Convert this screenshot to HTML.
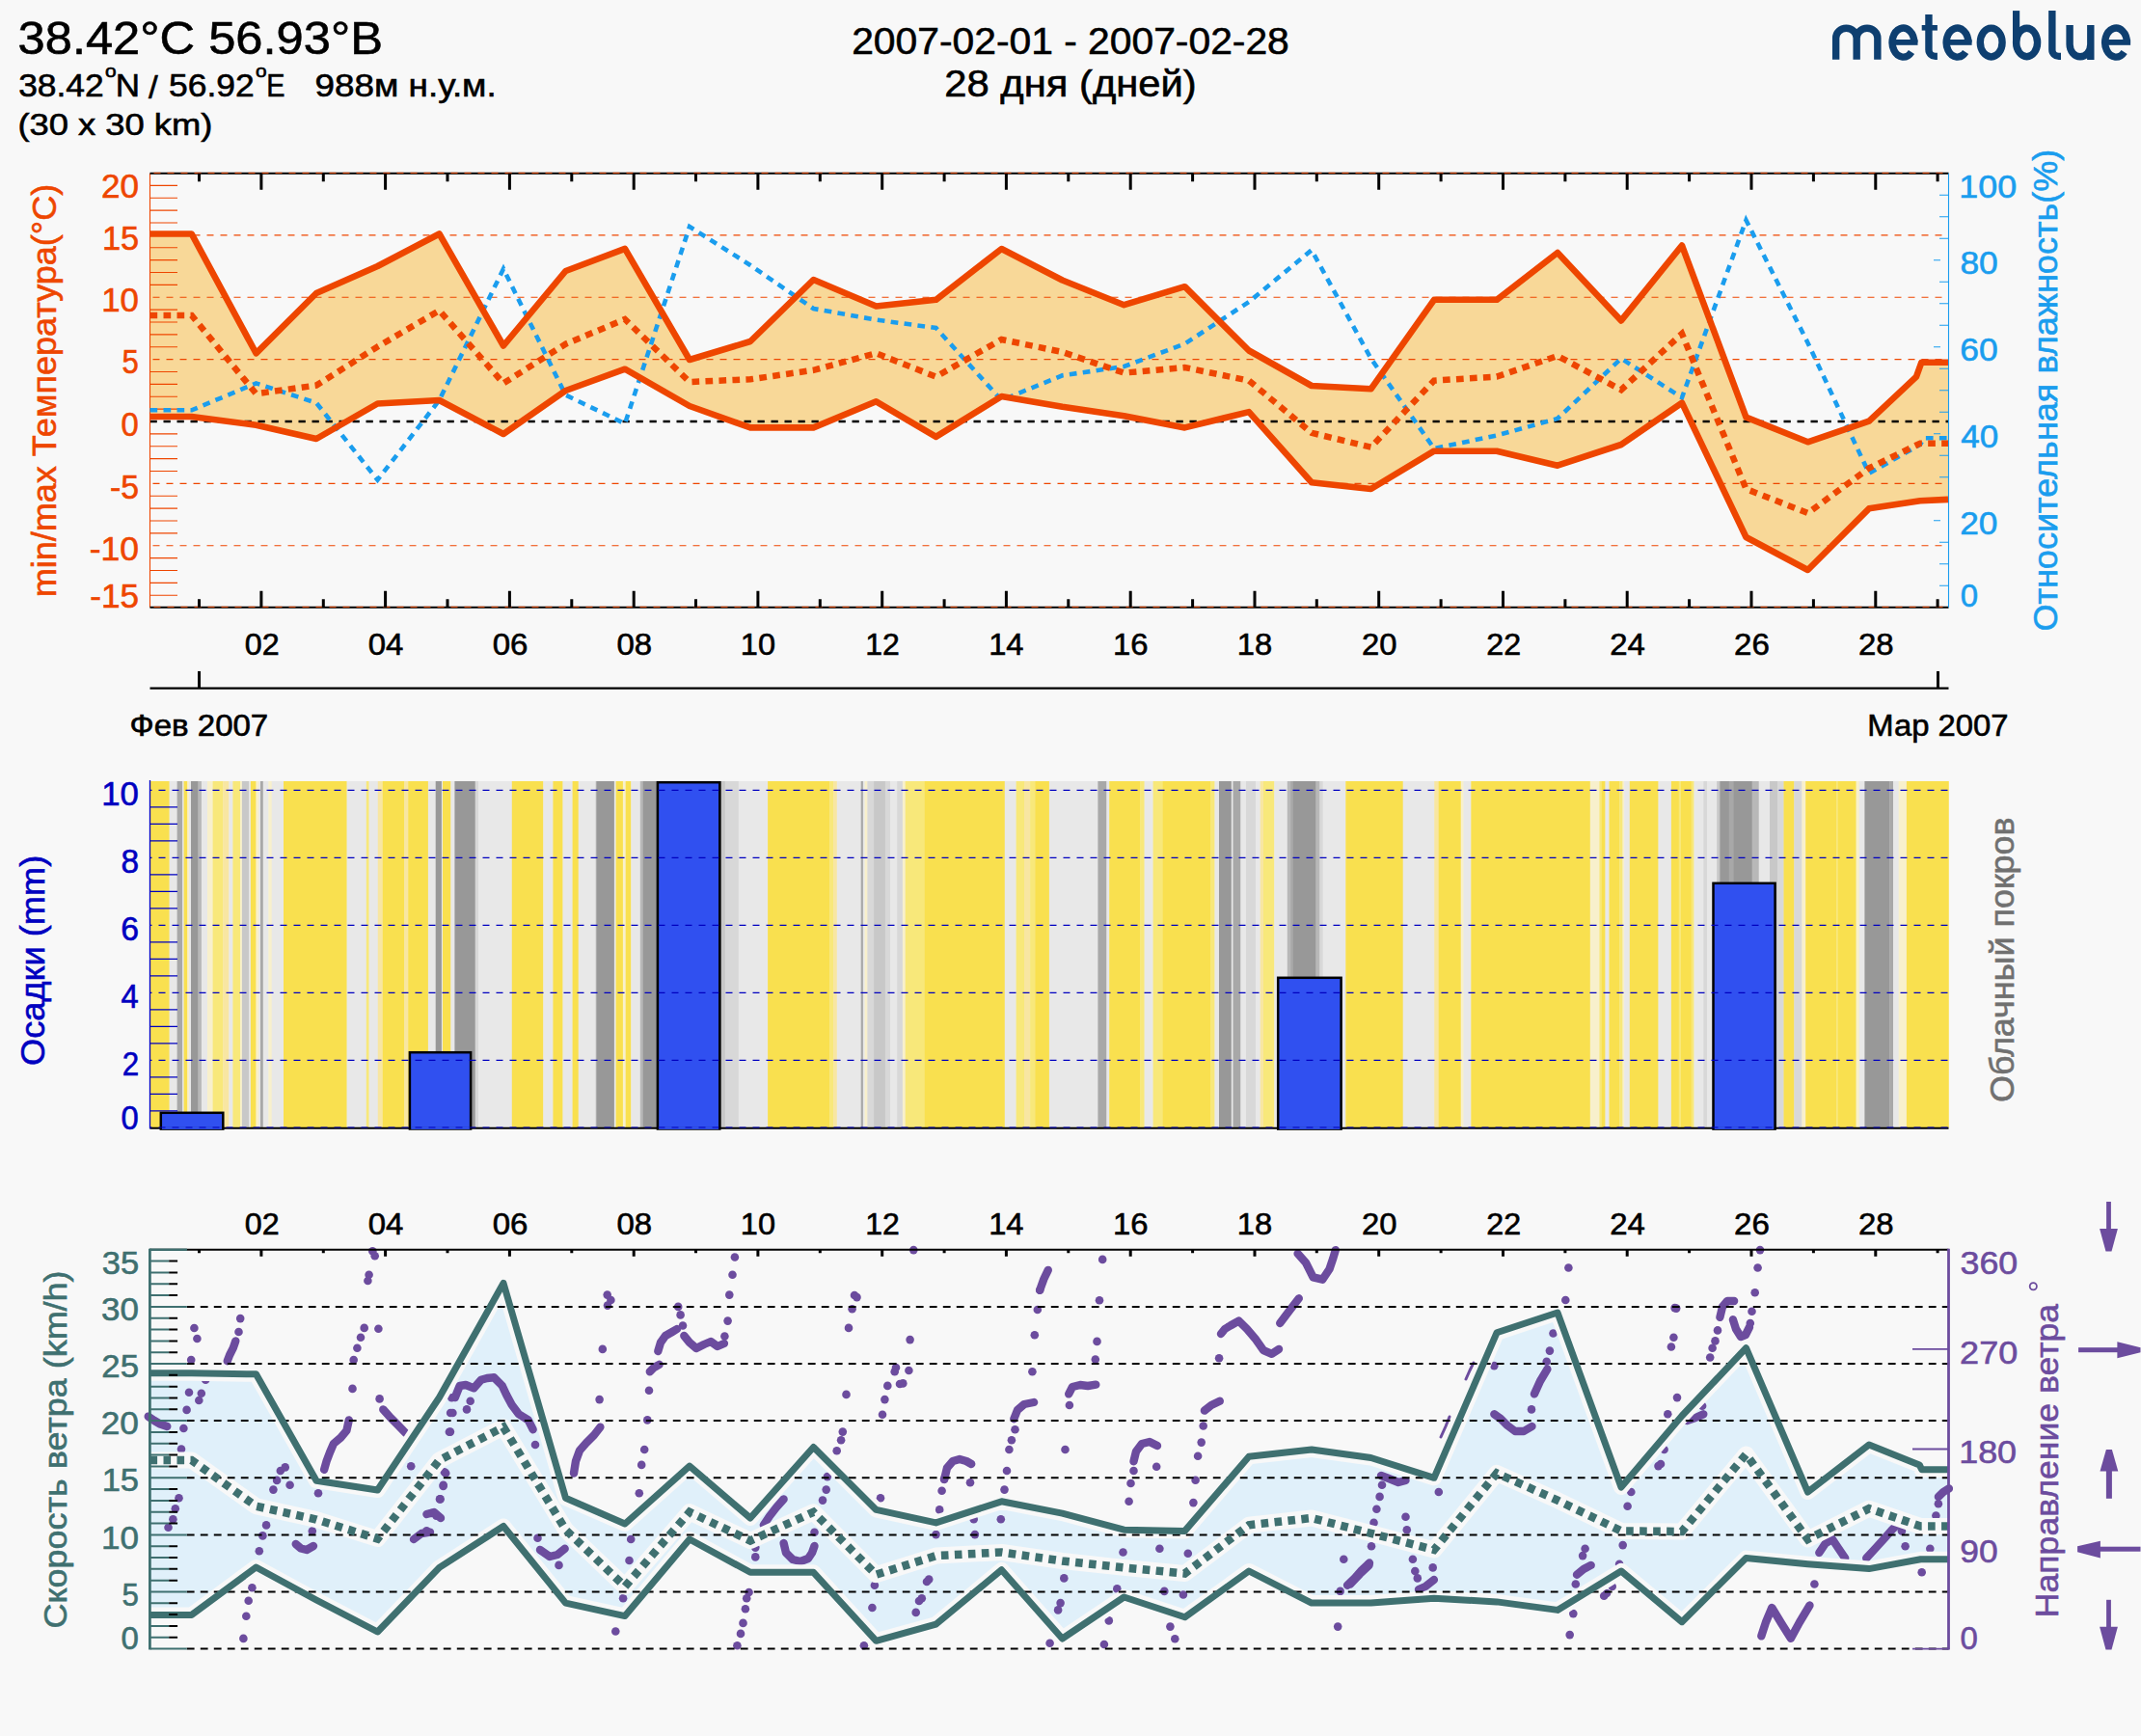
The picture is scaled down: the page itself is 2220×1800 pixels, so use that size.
<!DOCTYPE html><html><head><meta charset="utf-8"><title>meteoblue</title><style>html,body{margin:0;padding:0;background:#F8F8F8;overflow:hidden;width:2220px;height:1800px;}svg{display:block;}text{font-family:"Liberation Sans",sans-serif;}</style></head><body><svg width="2220" height="1800" viewBox="0 0 2220 1800" font-family="Liberation Sans, sans-serif">
<rect width="2220" height="1800" fill="#F8F8F8"/>
<text x="18.57" y="55.50" font-size="47.86" textLength="378.35" lengthAdjust="spacingAndGlyphs" fill="#000" stroke="#000" stroke-width="0.6">38.42°C 56.93°B</text>
<text x="19.18" y="100.40" font-size="33.29" textLength="88.57" lengthAdjust="spacingAndGlyphs" fill="#000" stroke="#000" stroke-width="0.6">38.42</text>
<text x="108.97" y="80.40" font-size="18.60" textLength="11.59" lengthAdjust="spacingAndGlyphs" fill="#000" stroke="#000" stroke-width="0.6">o</text>
<text x="119.80" y="100.40" font-size="33.29" textLength="25.28" lengthAdjust="spacingAndGlyphs" fill="#000" stroke="#000" stroke-width="0.6">N</text>
<text x="154.00" y="101.50" font-size="33.29" textLength="9.72" lengthAdjust="spacingAndGlyphs" fill="#000" stroke="#000" stroke-width="0.6">/</text>
<text x="175.08" y="100.40" font-size="33.29" textLength="88.68" lengthAdjust="spacingAndGlyphs" fill="#000" stroke="#000" stroke-width="0.6">56.92</text>
<text x="264.97" y="80.40" font-size="18.60" textLength="11.59" lengthAdjust="spacingAndGlyphs" fill="#000" stroke="#000" stroke-width="0.6">o</text>
<text x="276.20" y="100.40" font-size="33.29" textLength="19.22" lengthAdjust="spacingAndGlyphs" fill="#000" stroke="#000" stroke-width="0.6">E</text>
<text x="326.64" y="100.20" font-size="33.29" textLength="188.04" lengthAdjust="spacingAndGlyphs" fill="#000" stroke="#000" stroke-width="0.6">988м н.у.м.</text>
<text x="18.42" y="139.70" font-size="32.00" textLength="201.94" lengthAdjust="spacingAndGlyphs" fill="#000" stroke="#000" stroke-width="0.6">(30 x 30 km)</text>
<text x="883.16" y="55.80" font-size="39.00" textLength="453.66" lengthAdjust="spacingAndGlyphs" fill="#000" stroke="#000" stroke-width="0.6">2007-02-01 - 2007-02-28</text>
<text x="979.31" y="100.20" font-size="38.43" textLength="261.47" lengthAdjust="spacingAndGlyphs" fill="#000" stroke="#000" stroke-width="0.6">28 дня (дней)</text>
<path d="M1903.65,61.75 V39.5 A10.75,10.3 0 0,1 1925.15,39.5 V61.75 M1925.15,39.5 A10.85,10.3 0 0,1 1946.85,39.5 V61.75 M1984.80,44.10 A11.35,15.0 0 1,0 1982.02,53.94 M2040.90,44.10 A11.35,15.0 0 1,0 2038.12,53.94 M2205.40,44.10 A11.35,15.0 0 1,0 2202.62,53.94 M2076.1,44.05 A11.4,14.9 0 1,1 2053.3,44.05 A11.4,14.9 0 1,1 2076.1,44.05 Z M2112.6,44.0 A11.0,14.7 0 1,1 2090.6,44.0 A11.0,14.7 0 1,1 2112.6,44.0 Z M1999.95,15 V51.5 A6.9,6.9 0 0,0 2006.85,58.4 H2008.9 M2127.85,11.1 V51.5 A6.9,6.9 0 0,0 2134.75,58.4 H2137 M2146.1,26 V46.1 A10.85,12.75 0 0,0 2167.8,46.1 V26 M2167.8,46.1 V62" fill="none" stroke="#0E3F70" stroke-width="7.4"/>
<g fill="#0E3F70"><rect x="1961.40" y="41" width="27.1" height="5.8"/><rect x="2017.50" y="41" width="27.1" height="5.8"/><rect x="2182.00" y="41" width="27.1" height="5.8"/><rect x="1992.7" y="26" width="16.2" height="5.6"/><rect x="2087" y="11.1" width="7.2" height="34"/></g>
<polygon points="155.5,242.5 198.7,242.5 265.5,366.3 328.0,304.0 391.5,276.0 455.5,242.5 522.0,358.5 586.5,281.0 648.0,257.8 715.0,373.0 778.0,354.0 843.5,290.0 908.5,317.5 970.5,310.8 1038.5,258.0 1101.5,290.5 1165.5,316.2 1228.5,297.2 1295.0,363.5 1360.0,400.0 1421.5,403.3 1487.0,310.8 1552.0,310.8 1615.0,262.0 1681.0,332.4 1744.0,254.5 1810.5,432.6 1874.5,458.3 1938.0,436.6 1987.0,390.6 1992.4,375.7 2020.0,375.7 2020.0,517.9 1991.0,519.2 1938.0,527.3 1874.5,591.0 1810.5,557.0 1744.0,417.7 1681.0,461.0 1615.0,482.7 1552.0,467.7 1487.0,467.7 1421.5,507.0 1360.0,500.2 1295.0,427.1 1228.5,443.4 1165.5,431.2 1101.5,421.8 1038.5,411.0 970.5,452.9 908.5,416.3 843.5,443.4 778.0,443.4 715.0,421.0 648.0,382.7 586.5,405.0 522.0,450.0 455.5,415.0 391.5,418.5 328.0,455.0 265.5,440.7 198.7,432.0 155.5,432.0" fill="#F8D898"/>
<line x1="155.5" y1="243.9" x2="2020.5" y2="243.9" stroke="#EE4600" stroke-width="1.1" stroke-dasharray="7 7" stroke-dashoffset="-3"/>
<line x1="155.5" y1="308.2" x2="2020.5" y2="308.2" stroke="#EE4600" stroke-width="1.1" stroke-dasharray="7 7" stroke-dashoffset="-3"/>
<line x1="155.5" y1="372.6" x2="2020.5" y2="372.6" stroke="#EE4600" stroke-width="1.1" stroke-dasharray="7 7" stroke-dashoffset="-3"/>
<line x1="155.5" y1="501.4" x2="2020.5" y2="501.4" stroke="#EE4600" stroke-width="1.1" stroke-dasharray="7 7" stroke-dashoffset="-3"/>
<line x1="155.5" y1="565.8" x2="2020.5" y2="565.8" stroke="#EE4600" stroke-width="1.1" stroke-dasharray="7 7" stroke-dashoffset="-3"/>
<line x1="155.5" y1="437.0" x2="2020.5" y2="437.0" stroke="#000" stroke-width="2.4" stroke-dasharray="7.3 6.7"/>
<path d="M155.5,617.3 H184 M155.5,604.4 H184 M155.5,591.5 H184 M155.5,578.6 H184 M155.5,552.9 H184 M155.5,540.0 H184 M155.5,527.1 H184 M155.5,514.3 H184 M155.5,488.5 H184 M155.5,475.6 H184 M155.5,462.8 H184 M155.5,449.9 H184 M155.5,424.1 H184 M155.5,411.2 H184 M155.5,398.4 H184 M155.5,385.5 H184 M155.5,359.7 H184 M155.5,346.9 H184 M155.5,334.0 H184 M155.5,321.1 H184 M155.5,295.4 H184 M155.5,282.5 H184 M155.5,269.6 H184 M155.5,256.7 H184 M155.5,231.0 H184 M155.5,218.1 H184 M155.5,205.2 H184 M155.5,192.4 H184" stroke="#EE4600" stroke-width="1.1" fill="none"/>
<line x1="155.5" y1="179.8" x2="155.5" y2="629.8" stroke="#EE4600" stroke-width="1.1"/>
<line x1="155.5" y1="179.8" x2="2020.5" y2="179.8" stroke="#000" stroke-width="2"/>
<line x1="155.5" y1="179.3" x2="2020.5" y2="179.3" stroke="#EE4600" stroke-width="1" stroke-dasharray="7 7" stroke-dashoffset="-4"/>
<line x1="155.5" y1="629.8" x2="2020.5" y2="629.8" stroke="#000" stroke-width="2"/>
<line x1="155.5" y1="629.3" x2="2020.5" y2="629.3" stroke="#EE4600" stroke-width="1" stroke-dasharray="7 7" stroke-dashoffset="-4"/>
<path d="M206.5,179.8 v8.5 M206.5,629.8 v-8.5 M270.9,179.8 v17 M270.9,629.8 v-17 M335.3,179.8 v8.5 M335.3,629.8 v-8.5 M399.6,179.8 v17 M399.6,629.8 v-17 M464.0,179.8 v8.5 M464.0,629.8 v-8.5 M528.4,179.8 v17 M528.4,629.8 v-17 M592.8,179.8 v8.5 M592.8,629.8 v-8.5 M657.2,179.8 v17 M657.2,629.8 v-17 M721.5,179.8 v8.5 M721.5,629.8 v-8.5 M785.9,179.8 v17 M785.9,629.8 v-17 M850.3,179.8 v8.5 M850.3,629.8 v-8.5 M914.7,179.8 v17 M914.7,629.8 v-17 M979.1,179.8 v8.5 M979.1,629.8 v-8.5 M1043.4,179.8 v17 M1043.4,629.8 v-17 M1107.8,179.8 v8.5 M1107.8,629.8 v-8.5 M1172.2,179.8 v17 M1172.2,629.8 v-17 M1236.6,179.8 v8.5 M1236.6,629.8 v-8.5 M1301.0,179.8 v17 M1301.0,629.8 v-17 M1365.3,179.8 v8.5 M1365.3,629.8 v-8.5 M1429.7,179.8 v17 M1429.7,629.8 v-17 M1494.1,179.8 v8.5 M1494.1,629.8 v-8.5 M1558.5,179.8 v17 M1558.5,629.8 v-17 M1622.9,179.8 v8.5 M1622.9,629.8 v-8.5 M1687.2,179.8 v17 M1687.2,629.8 v-17 M1751.6,179.8 v8.5 M1751.6,629.8 v-8.5 M1816.0,179.8 v17 M1816.0,629.8 v-17 M1880.4,179.8 v8.5 M1880.4,629.8 v-8.5 M1944.8,179.8 v17 M1944.8,629.8 v-17 M2009.1,179.8 v8.5 M2009.1,629.8 v-8.5" stroke="#000" stroke-width="3" fill="none"/>
<line x1="2020.5" y1="179.8" x2="2020.5" y2="629.8" stroke="#1A9DEE" stroke-width="1.1"/>
<path d="M2011,607.3 H2020.5 M2011,584.8 H2020.5 M2011,562.3 H2020.5 M2005,539.8 H2012 M2011,517.3 H2020.5 M2011,494.8 H2020.5 M2011,472.3 H2020.5 M2005,449.8 H2012 M2011,427.3 H2020.5 M2011,404.8 H2020.5 M2011,382.3 H2020.5 M2005,359.8 H2012 M2011,337.3 H2020.5 M2011,314.8 H2020.5 M2011,292.3 H2020.5 M2005,269.8 H2012 M2011,247.3 H2020.5 M2011,224.8 H2020.5 M2011,202.3 H2020.5" stroke="#1A9DEE" stroke-width="1.1" fill="none"/>
<polyline points="155.5,425.3 198.7,425.3 265.5,397.4 328.0,417.7 391.5,497.6 455.5,415.0 522.0,278.8 586.5,409.6 648.0,439.3 715.0,235.0 778.0,275.0 843.5,320.0 908.5,331.6 970.5,340.0 1038.5,415.0 1101.5,389.3 1165.5,380.0 1228.5,356.5 1295.0,313.0 1360.0,259.3 1421.5,371.7 1487.0,465.0 1552.0,451.5 1615.0,434.0 1681.0,371.7 1744.0,412.3 1810.5,228.2 1874.5,355.4 1938.0,490.8 1991.0,461.0 1995.0,454.3 2020.0,454.3" fill="none" stroke="#1A9DEE" stroke-width="4.6" stroke-dasharray="7.7 6.3"/>
<polyline points="155.5,327.0 198.7,327.0 265.5,408.2 328.0,399.6 391.5,359.5 455.5,322.0 522.0,397.4 586.5,356.7 648.0,331.0 715.0,396.0 778.0,393.3 843.5,383.8 908.5,366.3 970.5,390.6 1038.5,352.0 1101.5,365.0 1165.5,386.6 1228.5,381.0 1295.0,394.6 1360.0,448.8 1421.5,463.7 1487.0,394.6 1552.0,390.6 1615.0,369.0 1681.0,404.2 1744.0,346.0 1810.5,507.0 1874.5,532.0 1938.0,485.4 1991.0,459.7 2020.0,459.7" fill="none" stroke="#EE4600" stroke-width="6.5" stroke-dasharray="7.7 6.3"/>
<polyline points="155.5,242.5 198.7,242.5 265.5,366.3 328.0,304.0 391.5,276.0 455.5,242.5 522.0,358.5 586.5,281.0 648.0,257.8 715.0,373.0 778.0,354.0 843.5,290.0 908.5,317.5 970.5,310.8 1038.5,258.0 1101.5,290.5 1165.5,316.2 1228.5,297.2 1295.0,363.5 1360.0,400.0 1421.5,403.3 1487.0,310.8 1552.0,310.8 1615.0,262.0 1681.0,332.4 1744.0,254.5 1810.5,432.6 1874.5,458.3 1938.0,436.6 1987.0,390.6 1992.4,375.7 2020.0,375.7" fill="none" stroke="#EE4600" stroke-width="6.6" stroke-linejoin="round"/>
<polyline points="155.5,432.0 198.7,432.0 265.5,440.7 328.0,455.0 391.5,418.5 455.5,415.0 522.0,450.0 586.5,405.0 648.0,382.7 715.0,421.0 778.0,443.4 843.5,443.4 908.5,416.3 970.5,452.9 1038.5,411.0 1101.5,421.8 1165.5,431.2 1228.5,443.4 1295.0,427.1 1360.0,500.2 1421.5,507.0 1487.0,467.7 1552.0,467.7 1615.0,482.7 1681.0,461.0 1744.0,417.7 1810.5,557.0 1874.5,591.0 1938.0,527.3 1991.0,519.2 2020.0,517.9" fill="none" stroke="#EE4600" stroke-width="6.6" stroke-linejoin="round"/>
<text x="104.95" y="204.95" font-size="34.15" textLength="38.96" lengthAdjust="spacingAndGlyphs" fill="#EE4600" stroke="#EE4600" stroke-width="0.6">20</text>
<text x="105.91" y="258.55" font-size="34.17" textLength="38.15" lengthAdjust="spacingAndGlyphs" fill="#EE4600" stroke="#EE4600" stroke-width="0.6">15</text>
<text x="105.22" y="323.05" font-size="34.15" textLength="38.67" lengthAdjust="spacingAndGlyphs" fill="#EE4600" stroke="#EE4600" stroke-width="0.6">10</text>
<text x="126.62" y="387.35" font-size="34.17" textLength="17.26" lengthAdjust="spacingAndGlyphs" fill="#EE4600" stroke="#EE4600" stroke-width="0.6">5</text>
<text x="125.58" y="452.15" font-size="34.15" textLength="18.20" lengthAdjust="spacingAndGlyphs" fill="#EE4600" stroke="#EE4600" stroke-width="0.6">0</text>
<text x="113.90" y="516.55" font-size="34.17" textLength="30.02" lengthAdjust="spacingAndGlyphs" fill="#EE4600" stroke="#EE4600" stroke-width="0.6">-5</text>
<text x="92.67" y="580.95" font-size="34.15" textLength="51.18" lengthAdjust="spacingAndGlyphs" fill="#EE4600" stroke="#EE4600" stroke-width="0.6">-10</text>
<text x="93.33" y="629.95" font-size="34.17" textLength="50.68" lengthAdjust="spacingAndGlyphs" fill="#EE4600" stroke="#EE4600" stroke-width="0.6">-15</text>
<text transform="translate(58.20,617.00) rotate(-90)" x="-2.34" y="0" font-size="34.71" textLength="428.55" lengthAdjust="spacingAndGlyphs" fill="#EE4600" stroke="#EE4600" stroke-width="0.6">min/max Температура(°C)</text>
<text x="2031.31" y="204.85" font-size="32.72" textLength="59.86" lengthAdjust="spacingAndGlyphs" fill="#1A9DEE" stroke="#1A9DEE" stroke-width="0.6">100</text>
<text x="2032.41" y="284.35" font-size="32.72" textLength="39.36" lengthAdjust="spacingAndGlyphs" fill="#1A9DEE" stroke="#1A9DEE" stroke-width="0.6">80</text>
<text x="2032.23" y="374.15" font-size="32.72" textLength="39.38" lengthAdjust="spacingAndGlyphs" fill="#1A9DEE" stroke="#1A9DEE" stroke-width="0.6">60</text>
<text x="2033.30" y="464.35" font-size="32.72" textLength="38.94" lengthAdjust="spacingAndGlyphs" fill="#1A9DEE" stroke="#1A9DEE" stroke-width="0.6">40</text>
<text x="2032.24" y="554.45" font-size="32.72" textLength="39.20" lengthAdjust="spacingAndGlyphs" fill="#1A9DEE" stroke="#1A9DEE" stroke-width="0.6">20</text>
<text x="2032.68" y="629.05" font-size="32.72" textLength="18.32" lengthAdjust="spacingAndGlyphs" fill="#1A9DEE" stroke="#1A9DEE" stroke-width="0.6">0</text>
<text transform="translate(2132.90,653.00) rotate(-90)" x="-1.62" y="0" font-size="34.57" textLength="499.95" lengthAdjust="spacingAndGlyphs" fill="#1A9DEE" stroke="#1A9DEE" stroke-width="0.6">Относительная влажность(%)</text>
<text x="253.79" y="679.40" font-size="32.00" textLength="35.82" lengthAdjust="spacingAndGlyphs" fill="#000" stroke="#000" stroke-width="0.6">02</text>
<text x="381.84" y="679.40" font-size="32.00" textLength="36.59" lengthAdjust="spacingAndGlyphs" fill="#000" stroke="#000" stroke-width="0.6">04</text>
<text x="510.67" y="679.40" font-size="32.00" textLength="36.78" lengthAdjust="spacingAndGlyphs" fill="#000" stroke="#000" stroke-width="0.6">06</text>
<text x="639.51" y="679.40" font-size="32.00" textLength="36.62" lengthAdjust="spacingAndGlyphs" fill="#000" stroke="#000" stroke-width="0.6">08</text>
<text x="767.83" y="679.40" font-size="32.00" textLength="36.20" lengthAdjust="spacingAndGlyphs" fill="#000" stroke="#000" stroke-width="0.6">10</text>
<text x="897.16" y="679.40" font-size="32.00" textLength="35.56" lengthAdjust="spacingAndGlyphs" fill="#000" stroke="#000" stroke-width="0.6">12</text>
<text x="1025.18" y="679.40" font-size="32.02" textLength="36.36" lengthAdjust="spacingAndGlyphs" fill="#000" stroke="#000" stroke-width="0.6">14</text>
<text x="1154.01" y="679.40" font-size="32.00" textLength="36.55" lengthAdjust="spacingAndGlyphs" fill="#000" stroke="#000" stroke-width="0.6">16</text>
<text x="1282.85" y="679.40" font-size="32.00" textLength="36.38" lengthAdjust="spacingAndGlyphs" fill="#000" stroke="#000" stroke-width="0.6">18</text>
<text x="1411.90" y="679.40" font-size="32.00" textLength="36.47" lengthAdjust="spacingAndGlyphs" fill="#000" stroke="#000" stroke-width="0.6">20</text>
<text x="1541.22" y="679.40" font-size="32.00" textLength="35.84" lengthAdjust="spacingAndGlyphs" fill="#000" stroke="#000" stroke-width="0.6">22</text>
<text x="1669.26" y="679.40" font-size="32.00" textLength="36.62" lengthAdjust="spacingAndGlyphs" fill="#000" stroke="#000" stroke-width="0.6">24</text>
<text x="1798.09" y="679.40" font-size="32.00" textLength="36.81" lengthAdjust="spacingAndGlyphs" fill="#000" stroke="#000" stroke-width="0.6">26</text>
<text x="1926.93" y="679.40" font-size="32.00" textLength="36.65" lengthAdjust="spacingAndGlyphs" fill="#000" stroke="#000" stroke-width="0.6">28</text>
<line x1="155.5" y1="713.6" x2="2020.5" y2="713.6" stroke="#000" stroke-width="2.2"/>
<path d="M206.5,696 V713.6 M2009.5,696 V713.6" stroke="#000" stroke-width="3"/>
<text x="134.58" y="763.00" font-size="31.71" textLength="143.67" lengthAdjust="spacingAndGlyphs" fill="#000" stroke="#000" stroke-width="0.6">Фев 2007</text>
<text x="1936.28" y="763.20" font-size="32.00" textLength="146.24" lengthAdjust="spacingAndGlyphs" fill="#000" stroke="#000" stroke-width="0.6">Мар 2007</text>
<defs><clipPath id="pc"><rect x="155.4" y="809.8" width="1865.4" height="359.5"/></clipPath><filter id="bx" x="100" y="790" width="2000" height="400" filterUnits="userSpaceOnUse"><feGaussianBlur stdDeviation="0.55 0"/></filter></defs>
<g clip-path="url(#pc)"><g filter="url(#bx)">
<rect x="140.0" y="809.8" width="35.9" height="359.5" fill="#F9E050"/>
<rect x="175.6" y="809.8" width="8.3" height="359.5" fill="#E8E8E8"/>
<rect x="183.6" y="809.8" width="5.9" height="359.5" fill="#A8A8A8"/>
<rect x="189.2" y="809.8" width="1.7" height="359.5" fill="#E8E8E8"/>
<rect x="190.6" y="809.8" width="4.0" height="359.5" fill="#F9E050"/>
<rect x="194.3" y="809.8" width="2.0" height="359.5" fill="#F8F0CC"/>
<rect x="196.0" y="809.8" width="2.3" height="359.5" fill="#E8E8E8"/>
<rect x="198.0" y="809.8" width="7.8" height="359.5" fill="#989898"/>
<rect x="205.5" y="809.8" width="3.7" height="359.5" fill="#B8B8B8"/>
<rect x="208.9" y="809.8" width="6.4" height="359.5" fill="#E8E8E8"/>
<rect x="215.0" y="809.8" width="5.9" height="359.5" fill="#F8F0CC"/>
<rect x="220.6" y="809.8" width="11.0" height="359.5" fill="#F8E87A"/>
<rect x="231.3" y="809.8" width="6.4" height="359.5" fill="#F8E6A2"/>
<rect x="237.4" y="809.8" width="4.3" height="359.5" fill="#E8E8E8"/>
<rect x="241.4" y="809.8" width="8.1" height="359.5" fill="#F8E87A"/>
<rect x="249.2" y="809.8" width="2.0" height="359.5" fill="#F8F0CC"/>
<rect x="250.9" y="809.8" width="7.6" height="359.5" fill="#C8C8C8"/>
<rect x="258.2" y="809.8" width="2.0" height="359.5" fill="#E8E8E8"/>
<rect x="259.9" y="809.8" width="5.9" height="359.5" fill="#F9E050"/>
<rect x="265.5" y="809.8" width="3.1" height="359.5" fill="#F8F0CC"/>
<rect x="268.3" y="809.8" width="2.0" height="359.5" fill="#E8E8E8"/>
<rect x="270.0" y="809.8" width="3.1" height="359.5" fill="#A8A8A8"/>
<rect x="272.8" y="809.8" width="5.9" height="359.5" fill="#E8E8E8"/>
<rect x="278.4" y="809.8" width="3.6" height="359.5" fill="#F8F0CC"/>
<rect x="281.7" y="809.8" width="12.6" height="359.5" fill="#E8E8E8"/>
<rect x="294.0" y="809.8" width="65.9" height="359.5" fill="#F9E050"/>
<rect x="359.6" y="809.8" width="20.5" height="359.5" fill="#E8E8E8"/>
<rect x="379.8" y="809.8" width="3.1" height="359.5" fill="#F8E87A"/>
<rect x="382.6" y="809.8" width="9.5" height="359.5" fill="#E8E8E8"/>
<rect x="391.8" y="809.8" width="5.3" height="359.5" fill="#F8E6A2"/>
<rect x="396.8" y="809.8" width="22.7" height="359.5" fill="#F9E050"/>
<rect x="419.2" y="809.8" width="4.3" height="359.5" fill="#F8E6A2"/>
<rect x="423.2" y="809.8" width="21.0" height="359.5" fill="#F9E050"/>
<rect x="443.9" y="809.8" width="8.1" height="359.5" fill="#E8E8E8"/>
<rect x="451.7" y="809.8" width="6.5" height="359.5" fill="#989898"/>
<rect x="457.9" y="809.8" width="1.4" height="359.5" fill="#E8E8E8"/>
<rect x="459.0" y="809.8" width="8.7" height="359.5" fill="#F9E050"/>
<rect x="467.4" y="809.8" width="4.3" height="359.5" fill="#E8E8E8"/>
<rect x="471.4" y="809.8" width="21.6" height="359.5" fill="#989898"/>
<rect x="492.7" y="809.8" width="3.6" height="359.5" fill="#D8D8D8"/>
<rect x="496.0" y="809.8" width="35.1" height="359.5" fill="#E8E8E8"/>
<rect x="530.8" y="809.8" width="32.8" height="359.5" fill="#F9E050"/>
<rect x="563.3" y="809.8" width="10.4" height="359.5" fill="#E8E8E8"/>
<rect x="573.4" y="809.8" width="10.4" height="359.5" fill="#F9E050"/>
<rect x="583.5" y="809.8" width="10.4" height="359.5" fill="#E8E8E8"/>
<rect x="593.6" y="809.8" width="6.4" height="359.5" fill="#F9E050"/>
<rect x="599.7" y="809.8" width="18.3" height="359.5" fill="#E8E8E8"/>
<rect x="617.7" y="809.8" width="1.0" height="359.5" fill="#B8B8B8"/>
<rect x="618.4" y="809.8" width="18.8" height="359.5" fill="#989898"/>
<rect x="636.9" y="809.8" width="2.0" height="359.5" fill="#E8E8E8"/>
<rect x="638.6" y="809.8" width="7.6" height="359.5" fill="#F9E050"/>
<rect x="645.9" y="809.8" width="3.1" height="359.5" fill="#F8F0CC"/>
<rect x="648.7" y="809.8" width="5.9" height="359.5" fill="#F9E050"/>
<rect x="654.3" y="809.8" width="9.8" height="359.5" fill="#E8E8E8"/>
<rect x="663.8" y="809.8" width="3.0" height="359.5" fill="#B8B8B8"/>
<rect x="666.5" y="809.8" width="81.8" height="359.5" fill="#989898"/>
<rect x="748.0" y="809.8" width="4.1" height="359.5" fill="#C8C8C8"/>
<rect x="751.8" y="809.8" width="14.3" height="359.5" fill="#D8D8D8"/>
<rect x="765.8" y="809.8" width="30.6" height="359.5" fill="#E8E8E8"/>
<rect x="796.1" y="809.8" width="64.4" height="359.5" fill="#F9E050"/>
<rect x="860.2" y="809.8" width="4.2" height="359.5" fill="#F8E87A"/>
<rect x="864.1" y="809.8" width="4.0" height="359.5" fill="#F8E6A2"/>
<rect x="867.8" y="809.8" width="25.2" height="359.5" fill="#E8E8E8"/>
<rect x="892.7" y="809.8" width="2.5" height="359.5" fill="#A8A8A8"/>
<rect x="894.9" y="809.8" width="2.0" height="359.5" fill="#E8E8E8"/>
<rect x="896.6" y="809.8" width="3.1" height="359.5" fill="#F8F0CC"/>
<rect x="899.4" y="809.8" width="7.0" height="359.5" fill="#D8D8D8"/>
<rect x="906.1" y="809.8" width="12.1" height="359.5" fill="#C8C8C8"/>
<rect x="917.9" y="809.8" width="5.4" height="359.5" fill="#D8D8D8"/>
<rect x="923.0" y="809.8" width="7.5" height="359.5" fill="#E8E8E8"/>
<rect x="930.2" y="809.8" width="6.0" height="359.5" fill="#D8D8D8"/>
<rect x="935.9" y="809.8" width="3.1" height="359.5" fill="#F8F0CC"/>
<rect x="938.7" y="809.8" width="20.4" height="359.5" fill="#F8E87A"/>
<rect x="958.8" y="809.8" width="83.3" height="359.5" fill="#F9E050"/>
<rect x="1041.8" y="809.8" width="12.1" height="359.5" fill="#E8E8E8"/>
<rect x="1053.6" y="809.8" width="8.7" height="359.5" fill="#F8E87A"/>
<rect x="1062.0" y="809.8" width="6.4" height="359.5" fill="#F8E6A2"/>
<rect x="1068.1" y="809.8" width="5.4" height="359.5" fill="#F8E87A"/>
<rect x="1073.2" y="809.8" width="15.0" height="359.5" fill="#F9E050"/>
<rect x="1087.9" y="809.8" width="50.8" height="359.5" fill="#E8E8E8"/>
<rect x="1138.4" y="809.8" width="9.3" height="359.5" fill="#A8A8A8"/>
<rect x="1147.4" y="809.8" width="3.1" height="359.5" fill="#E8E8E8"/>
<rect x="1150.2" y="809.8" width="32.2" height="359.5" fill="#F9E050"/>
<rect x="1182.1" y="809.8" width="4.8" height="359.5" fill="#F8E87A"/>
<rect x="1186.6" y="809.8" width="9.3" height="359.5" fill="#E8E8E8"/>
<rect x="1195.6" y="809.8" width="10.4" height="359.5" fill="#F8E87A"/>
<rect x="1205.7" y="809.8" width="49.6" height="359.5" fill="#F9E050"/>
<rect x="1255.0" y="809.8" width="4.8" height="359.5" fill="#F8E87A"/>
<rect x="1259.5" y="809.8" width="4.8" height="359.5" fill="#E8E8E8"/>
<rect x="1264.0" y="809.8" width="13.1" height="359.5" fill="#989898"/>
<rect x="1276.8" y="809.8" width="2.0" height="359.5" fill="#E8E8E8"/>
<rect x="1278.5" y="809.8" width="8.2" height="359.5" fill="#A8A8A8"/>
<rect x="1286.4" y="809.8" width="5.9" height="359.5" fill="#E8E8E8"/>
<rect x="1292.0" y="809.8" width="10.3" height="359.5" fill="#D8D8D8"/>
<rect x="1302.0" y="809.8" width="5.0" height="359.5" fill="#E8E8E8"/>
<rect x="1306.7" y="809.8" width="3.6" height="359.5" fill="#F8E6A2"/>
<rect x="1310.0" y="809.8" width="11.6" height="359.5" fill="#F8E87A"/>
<rect x="1321.3" y="809.8" width="13.8" height="359.5" fill="#E8E8E8"/>
<rect x="1334.8" y="809.8" width="3.6" height="359.5" fill="#B8B8B8"/>
<rect x="1338.1" y="809.8" width="3.1" height="359.5" fill="#A8A8A8"/>
<rect x="1340.9" y="809.8" width="23.9" height="359.5" fill="#989898"/>
<rect x="1364.5" y="809.8" width="4.2" height="359.5" fill="#B8B8B8"/>
<rect x="1368.4" y="809.8" width="3.6" height="359.5" fill="#D8D8D8"/>
<rect x="1371.7" y="809.8" width="23.9" height="359.5" fill="#E8E8E8"/>
<rect x="1395.3" y="809.8" width="59.7" height="359.5" fill="#F9E050"/>
<rect x="1454.7" y="809.8" width="32.8" height="359.5" fill="#E8E8E8"/>
<rect x="1487.2" y="809.8" width="4.8" height="359.5" fill="#F8E6A2"/>
<rect x="1491.7" y="809.8" width="23.3" height="359.5" fill="#F9E050"/>
<rect x="1514.7" y="809.8" width="3.1" height="359.5" fill="#F8F0CC"/>
<rect x="1517.5" y="809.8" width="8.1" height="359.5" fill="#E8E8E8"/>
<rect x="1525.3" y="809.8" width="123.8" height="359.5" fill="#F9E050"/>
<rect x="1648.8" y="809.8" width="9.9" height="359.5" fill="#F8F0CC"/>
<rect x="1658.4" y="809.8" width="2.5" height="359.5" fill="#F8E87A"/>
<rect x="1660.6" y="809.8" width="4.2" height="359.5" fill="#F9E050"/>
<rect x="1664.5" y="809.8" width="4.3" height="359.5" fill="#E8E8E8"/>
<rect x="1668.5" y="809.8" width="10.9" height="359.5" fill="#F9E050"/>
<rect x="1679.1" y="809.8" width="3.7" height="359.5" fill="#F8E87A"/>
<rect x="1682.5" y="809.8" width="1.9" height="359.5" fill="#F8F0CC"/>
<rect x="1684.1" y="809.8" width="6.0" height="359.5" fill="#E8E8E8"/>
<rect x="1689.8" y="809.8" width="30.0" height="359.5" fill="#F9E050"/>
<rect x="1719.5" y="809.8" width="13.7" height="359.5" fill="#E8E8E8"/>
<rect x="1732.9" y="809.8" width="8.2" height="359.5" fill="#F9E050"/>
<rect x="1740.8" y="809.8" width="2.5" height="359.5" fill="#F8E87A"/>
<rect x="1743.0" y="809.8" width="11.0" height="359.5" fill="#F9E050"/>
<rect x="1753.7" y="809.8" width="3.1" height="359.5" fill="#F8E87A"/>
<rect x="1756.5" y="809.8" width="10.1" height="359.5" fill="#E8E8E8"/>
<rect x="1766.3" y="809.8" width="4.1" height="359.5" fill="#D8D8D8"/>
<rect x="1770.1" y="809.8" width="10.4" height="359.5" fill="#E8E8E8"/>
<rect x="1780.2" y="809.8" width="3.4" height="359.5" fill="#C8C8C8"/>
<rect x="1783.3" y="809.8" width="9.8" height="359.5" fill="#989898"/>
<rect x="1792.8" y="809.8" width="4.7" height="359.5" fill="#A8A8A8"/>
<rect x="1797.2" y="809.8" width="19.8" height="359.5" fill="#989898"/>
<rect x="1816.7" y="809.8" width="7.3" height="359.5" fill="#B8B8B8"/>
<rect x="1823.7" y="809.8" width="11.6" height="359.5" fill="#E8E8E8"/>
<rect x="1835.0" y="809.8" width="8.5" height="359.5" fill="#C8C8C8"/>
<rect x="1843.2" y="809.8" width="6.6" height="359.5" fill="#D8D8D8"/>
<rect x="1849.5" y="809.8" width="11.1" height="359.5" fill="#F9E050"/>
<rect x="1860.3" y="809.8" width="8.4" height="359.5" fill="#D8D8D8"/>
<rect x="1868.4" y="809.8" width="4.1" height="359.5" fill="#F8F0CC"/>
<rect x="1872.2" y="809.8" width="32.5" height="359.5" fill="#F9E050"/>
<rect x="1904.4" y="809.8" width="1.5" height="359.5" fill="#F8E87A"/>
<rect x="1905.6" y="809.8" width="19.3" height="359.5" fill="#F9E050"/>
<rect x="1924.6" y="809.8" width="3.4" height="359.5" fill="#F8F0CC"/>
<rect x="1927.7" y="809.8" width="6.0" height="359.5" fill="#E8E8E8"/>
<rect x="1933.4" y="809.8" width="26.1" height="359.5" fill="#989898"/>
<rect x="1959.2" y="809.8" width="4.1" height="359.5" fill="#A8A8A8"/>
<rect x="1963.0" y="809.8" width="6.0" height="359.5" fill="#E8E8E8"/>
<rect x="1968.7" y="809.8" width="8.5" height="359.5" fill="#F8F0CC"/>
<rect x="1976.9" y="809.8" width="63.4" height="359.5" fill="#F9E050"/>
</g></g>
<rect x="166.8" y="1153.8" width="64.5" height="16.8" fill="#3050F0" stroke="#000" stroke-width="2.5"/>
<rect x="424.9" y="1091.2" width="63.2" height="79.3" fill="#3050F0" stroke="#000" stroke-width="2.5"/>
<rect x="681.9" y="811.2" width="64.4" height="359.3" fill="#3050F0" stroke="#000" stroke-width="2.5"/>
<rect x="1325.2" y="1013.8" width="65.4" height="156.8" fill="#3050F0" stroke="#000" stroke-width="2.5"/>
<rect x="1776.5" y="915.8" width="64.1" height="254.8" fill="#3050F0" stroke="#000" stroke-width="2.5"/>
<line x1="155.5" y1="1169.8" x2="2020.5" y2="1169.8" stroke="#000" stroke-width="2"/>
<rect x="168.0" y="1168.3" width="62.0" height="2.6" fill="#3050F0"/>
<rect x="426.2" y="1168.3" width="60.7" height="2.6" fill="#3050F0"/>
<rect x="683.1" y="1168.3" width="61.9" height="2.6" fill="#3050F0"/>
<rect x="1326.5" y="1168.3" width="62.9" height="2.6" fill="#3050F0"/>
<rect x="1777.7" y="1168.3" width="61.6" height="2.6" fill="#3050F0"/>
<line x1="155.5" y1="1099.3" x2="2020.5" y2="1099.3" stroke="#0000C0" stroke-width="1.2" stroke-dasharray="7 7" stroke-dashoffset="-9"/>
<line x1="155.5" y1="1029.3" x2="2020.5" y2="1029.3" stroke="#0000C0" stroke-width="1.2" stroke-dasharray="7 7" stroke-dashoffset="-9"/>
<line x1="155.5" y1="959.3" x2="2020.5" y2="959.3" stroke="#0000C0" stroke-width="1.2" stroke-dasharray="7 7" stroke-dashoffset="-9"/>
<line x1="155.5" y1="889.3" x2="2020.5" y2="889.3" stroke="#0000C0" stroke-width="1.2" stroke-dasharray="7 7" stroke-dashoffset="-9"/>
<line x1="155.5" y1="819.3" x2="2020.5" y2="819.3" stroke="#0000C0" stroke-width="1.2" stroke-dasharray="7 7" stroke-dashoffset="-9"/>
<line x1="155.5" y1="1169.0" x2="2020.5" y2="1169.0" stroke="#0000C0" stroke-width="1" stroke-dasharray="7 7" stroke-dashoffset="-9"/>
<path d="M155.5,1151.8 H184 M155.5,1134.3 H184 M155.5,1116.8 H184 M155.5,1081.8 H184 M155.5,1064.3 H184 M155.5,1046.8 H184 M155.5,1011.8 H184 M155.5,994.3 H184 M155.5,976.8 H184 M155.5,941.8 H184 M155.5,924.3 H184 M155.5,906.8 H184 M155.5,871.8 H184 M155.5,854.3 H184 M155.5,836.8 H184" stroke="#0000C0" stroke-width="1.2" fill="none"/>
<line x1="155.5" y1="809" x2="155.5" y2="1170.3" stroke="#0000C0" stroke-width="1.3"/>
<text x="105.22" y="834.90" font-size="34.15" textLength="38.67" lengthAdjust="spacingAndGlyphs" fill="#0000C0" stroke="#0000C0" stroke-width="0.6">10</text>
<text x="125.38" y="905.20" font-size="34.15" textLength="18.59" lengthAdjust="spacingAndGlyphs" fill="#0000C0" stroke="#0000C0" stroke-width="0.6">8</text>
<text x="125.20" y="975.10" font-size="34.15" textLength="18.79" lengthAdjust="spacingAndGlyphs" fill="#0000C0" stroke="#0000C0" stroke-width="0.6">6</text>
<text x="125.43" y="1045.20" font-size="34.17" textLength="18.19" lengthAdjust="spacingAndGlyphs" fill="#0000C0" stroke="#0000C0" stroke-width="0.6">4</text>
<text x="126.78" y="1115.10" font-size="34.15" textLength="17.43" lengthAdjust="spacingAndGlyphs" fill="#0000C0" stroke="#0000C0" stroke-width="0.6">2</text>
<text x="125.58" y="1170.50" font-size="34.15" textLength="18.20" lengthAdjust="spacingAndGlyphs" fill="#0000C0" stroke="#0000C0" stroke-width="0.6">0</text>
<text transform="translate(46.10,1103.40) rotate(-90)" x="-1.63" y="0" font-size="35.14" textLength="218.34" lengthAdjust="spacingAndGlyphs" fill="#0000C0" stroke="#0000C0" stroke-width="0.6">Осадки (mm)</text>
<text transform="translate(2088.30,1141.40) rotate(-90)" x="-1.62" y="0" font-size="35.14" textLength="295.67" lengthAdjust="spacingAndGlyphs" fill="#707070" stroke="#707070" stroke-width="0.6">Облачный покров</text>
<polygon points="155.5,1423.8 198.7,1423.8 265.5,1424.8 328.0,1535.2 391.5,1545.0 455.5,1449.0 522.0,1330.4 586.5,1553.2 648.0,1580.0 715.0,1520.1 778.0,1574.0 843.5,1500.5 908.5,1565.4 970.5,1578.9 1038.5,1556.8 1101.5,1569.1 1165.5,1586.2 1228.5,1587.4 1295.0,1510.3 1360.0,1503.0 1421.5,1511.5 1487.0,1532.3 1552.0,1381.8 1615.0,1361.0 1681.0,1542.1 1744.0,1468.0 1810.5,1397.7 1874.5,1547.0 1938.0,1498.1 1990.3,1518.9 1992.7,1523.8 2020.9,1523.8 2020.9,1616.8 1991.5,1616.8 1938.0,1626.6 1874.5,1621.7 1810.5,1615.6 1744.0,1681.7 1681.0,1629.0 1615.0,1669.4 1552.0,1660.9 1487.0,1657.2 1421.5,1662.1 1360.0,1662.1 1295.0,1629.0 1228.5,1676.8 1165.5,1656.0 1101.5,1699.0 1038.5,1627.8 970.5,1684.1 908.5,1701.3 843.5,1630.3 778.0,1630.3 715.0,1596.0 648.0,1675.6 586.5,1662.1 522.0,1582.5 455.5,1625.4 391.5,1692.0 328.0,1659.0 265.5,1625.0 198.7,1674.4 155.5,1674.4" fill="#E0F0FA"/>
<g fill="#6C4C9E"><circle cx="188.0" cy="1502.5" r="4.3"/><circle cx="190.4" cy="1481.0" r="4.3"/><circle cx="193.6" cy="1461.9" r="4.3"/><circle cx="196.0" cy="1443.8" r="4.3"/><circle cx="198.2" cy="1410.0" r="4.3"/><circle cx="204.4" cy="1388.0" r="4.3"/><circle cx="201.4" cy="1377.0" r="4.3"/><circle cx="208.8" cy="1444.7" r="4.3"/><circle cx="206.3" cy="1452.0" r="4.3"/><circle cx="213.2" cy="1430.8" r="4.3"/><circle cx="247.5" cy="1381.0" r="4.3"/><circle cx="249.2" cy="1367.1" r="4.3"/><circle cx="185.5" cy="1553.2" r="4.3"/><circle cx="181.8" cy="1564.2" r="4.3"/><circle cx="179.4" cy="1575.3" r="4.3"/><circle cx="174.5" cy="1583.8" r="4.3"/><circle cx="252.4" cy="1698.9" r="4.3"/><circle cx="255.3" cy="1675.7" r="4.3"/><circle cx="257.7" cy="1659.7" r="4.3"/><circle cx="261.4" cy="1646.3" r="4.3"/><circle cx="268.8" cy="1608.3" r="4.3"/><circle cx="272.4" cy="1592.4" r="4.3"/><circle cx="276.1" cy="1581.4" r="4.3"/><circle cx="283.4" cy="1544.6" r="4.3"/><circle cx="287.1" cy="1534.9" r="4.3"/><circle cx="290.8" cy="1525.0" r="4.3"/><circle cx="295.7" cy="1521.4" r="4.3"/><circle cx="300.6" cy="1539.8" r="4.3"/><circle cx="323.8" cy="1587.5" r="4.3"/><circle cx="330.0" cy="1548.3" r="4.3"/><circle cx="365.5" cy="1439.9" r="4.3"/><circle cx="366.7" cy="1410.0" r="4.3"/><circle cx="370.4" cy="1397.7" r="4.3"/><circle cx="374.0" cy="1386.7" r="4.3"/><circle cx="377.7" cy="1376.9" r="4.3"/><circle cx="381.4" cy="1328.0" r="4.3"/><circle cx="382.6" cy="1321.8" r="4.3"/><circle cx="386.3" cy="1297.3" r="4.3"/><circle cx="388.7" cy="1302.2" r="4.3"/><circle cx="392.4" cy="1377.7" r="4.3"/><circle cx="393.6" cy="1450.4" r="4.3"/><circle cx="426.2" cy="1520.2" r="4.3"/><circle cx="447.5" cy="1569.0" r="4.3"/><circle cx="452.4" cy="1571.6" r="4.3"/><circle cx="456.0" cy="1554.4" r="4.3"/><circle cx="459.7" cy="1539.8" r="4.3"/><circle cx="462.2" cy="1527.5" r="4.3"/><circle cx="465.9" cy="1484.7" r="4.3"/><circle cx="467.1" cy="1465.0" r="4.3"/><circle cx="468.3" cy="1449.2" r="4.3"/><circle cx="761.9" cy="1303.5" r="4.3"/><circle cx="759.5" cy="1321.8" r="4.3"/><circle cx="756.3" cy="1342.6" r="4.3"/><circle cx="754.6" cy="1369.6" r="4.3"/><circle cx="751.4" cy="1385.5" r="4.3"/><circle cx="703.2" cy="1354.9" r="4.3"/><circle cx="705.6" cy="1363.4" r="4.3"/><circle cx="708.0" cy="1374.5" r="4.3"/><circle cx="673.0" cy="1441.8" r="4.3"/><circle cx="671.3" cy="1472.4" r="4.3"/><circle cx="668.2" cy="1503.0" r="4.3"/><circle cx="665.2" cy="1518.9" r="4.3"/><circle cx="662.8" cy="1548.3" r="4.3"/><circle cx="654.2" cy="1596.0" r="4.3"/><circle cx="652.5" cy="1618.0" r="4.3"/><circle cx="646.1" cy="1657.2" r="4.3"/><circle cx="638.3" cy="1691.5" r="4.3"/><circle cx="629.7" cy="1342.6" r="4.3"/><circle cx="633.4" cy="1348.0" r="4.3"/><circle cx="630.0" cy="1353.6" r="4.3"/><circle cx="624.8" cy="1398.9" r="4.3"/><circle cx="621.6" cy="1451.1" r="4.3"/><circle cx="555.0" cy="1498.0" r="4.3"/><circle cx="469.4" cy="1465.0" r="4.3"/><circle cx="466.9" cy="1484.6" r="4.3"/><circle cx="484.0" cy="1461.4" r="4.3"/><circle cx="487.7" cy="1452.8" r="4.3"/><circle cx="460.8" cy="1526.2" r="4.3"/><circle cx="459.6" cy="1540.9" r="4.3"/><circle cx="456.6" cy="1554.4" r="4.3"/><circle cx="442.4" cy="1587.4" r="4.3"/><circle cx="557.5" cy="1594.8" r="4.3"/><circle cx="579.5" cy="1622.9" r="4.3"/><circle cx="776.6" cy="1651.0" r="4.3"/><circle cx="774.2" cy="1657.2" r="4.3"/><circle cx="772.9" cy="1668.2" r="4.3"/><circle cx="770.5" cy="1682.9" r="4.3"/><circle cx="768.0" cy="1693.9" r="4.3"/><circle cx="764.4" cy="1706.2" r="4.3"/><circle cx="947.3" cy="1296.1" r="4.3"/><circle cx="888.5" cy="1345.1" r="4.3"/><circle cx="886.0" cy="1343.0" r="4.3"/><circle cx="883.6" cy="1357.3" r="4.3"/><circle cx="880.0" cy="1376.9" r="4.3"/><circle cx="943.6" cy="1389.1" r="4.3"/><circle cx="942.4" cy="1421.0" r="4.3"/><circle cx="927.7" cy="1422.2" r="4.3"/><circle cx="929.0" cy="1418.0" r="4.3"/><circle cx="936.3" cy="1434.4" r="4.3"/><circle cx="933.0" cy="1435.0" r="4.3"/><circle cx="920.3" cy="1436.9" r="4.3"/><circle cx="917.4" cy="1451.1" r="4.3"/><circle cx="915.0" cy="1466.7" r="4.3"/><circle cx="877.5" cy="1445.9" r="4.3"/><circle cx="873.8" cy="1484.6" r="4.3"/><circle cx="872.1" cy="1493.2" r="4.3"/><circle cx="867.7" cy="1504.2" r="4.3"/><circle cx="857.9" cy="1531.1" r="4.3"/><circle cx="856.7" cy="1544.6" r="4.3"/><circle cx="853.0" cy="1555.6" r="4.3"/><circle cx="844.5" cy="1588.7" r="4.3"/><circle cx="783.3" cy="1604.6" r="4.3"/><circle cx="783.3" cy="1614.4" r="4.3"/><circle cx="906.9" cy="1643.7" r="4.3"/><circle cx="904.4" cy="1667.0" r="4.3"/><circle cx="895.9" cy="1706.2" r="4.3"/><circle cx="913.0" cy="1553.2" r="4.3"/><circle cx="963.2" cy="1637.6" r="4.3"/><circle cx="961.0" cy="1640.0" r="4.3"/><circle cx="955.8" cy="1657.2" r="4.3"/><circle cx="953.0" cy="1660.0" r="4.3"/><circle cx="949.7" cy="1671.9" r="4.3"/><circle cx="970.5" cy="1591.1" r="4.3"/><circle cx="974.2" cy="1565.4" r="4.3"/><circle cx="976.6" cy="1545.8" r="4.3"/><circle cx="979.1" cy="1533.6" r="4.3"/><circle cx="1006.0" cy="1537.3" r="4.3"/><circle cx="1009.7" cy="1575.2" r="4.3"/><circle cx="1010.9" cy="1591.1" r="4.3"/><circle cx="1037.8" cy="1575.2" r="4.3"/><circle cx="1041.5" cy="1544.6" r="4.3"/><circle cx="1044.0" cy="1525.0" r="4.3"/><circle cx="1046.4" cy="1503.0" r="4.3"/><circle cx="1048.9" cy="1493.2" r="4.3"/><circle cx="1052.5" cy="1482.2" r="4.3"/><circle cx="1070.4" cy="1422.2" r="4.3"/><circle cx="1072.8" cy="1384.2" r="4.3"/><circle cx="1075.8" cy="1358.0" r="4.3"/><circle cx="1078.2" cy="1337.7" r="4.3"/><circle cx="1143.2" cy="1305.9" r="4.3"/><circle cx="1140.0" cy="1348.3" r="4.3"/><circle cx="1137.5" cy="1390.9" r="4.3"/><circle cx="1135.8" cy="1409.5" r="4.3"/><circle cx="1108.9" cy="1457.0" r="4.3"/><circle cx="1104.5" cy="1503.0" r="4.3"/><circle cx="1103.3" cy="1636.4" r="4.3"/><circle cx="1099.6" cy="1662.1" r="4.3"/><circle cx="1097.1" cy="1669.4" r="4.3"/><circle cx="1088.6" cy="1703.7" r="4.3"/><circle cx="1164.5" cy="1609.5" r="4.3"/><circle cx="1158.3" cy="1647.4" r="4.3"/><circle cx="1149.8" cy="1680.4" r="4.3"/><circle cx="1144.9" cy="1705.0" r="4.3"/><circle cx="1199.2" cy="1520.8" r="4.3"/><circle cx="1175.5" cy="1525.0" r="4.3"/><circle cx="1172.5" cy="1538.0" r="4.3"/><circle cx="1170.6" cy="1556.8" r="4.3"/><circle cx="1202.4" cy="1605.8" r="4.3"/><circle cx="1207.3" cy="1649.9" r="4.3"/><circle cx="1213.4" cy="1686.6" r="4.3"/><circle cx="1218.3" cy="1699.3" r="4.3"/><circle cx="1226.9" cy="1653.5" r="4.3"/><circle cx="1231.8" cy="1610.7" r="4.3"/><circle cx="1237.4" cy="1558.1" r="4.3"/><circle cx="1239.6" cy="1534.8" r="4.3"/><circle cx="1242.1" cy="1509.8" r="4.3"/><circle cx="1245.7" cy="1495.6" r="4.3"/><circle cx="1247.7" cy="1478.5" r="4.3"/><circle cx="1264.1" cy="1408.2" r="4.3"/><circle cx="1393.3" cy="1616.8" r="4.3"/><circle cx="1389.7" cy="1649.9" r="4.3"/><circle cx="1387.2" cy="1686.6" r="4.3"/><circle cx="1419.1" cy="1621.7" r="4.3"/><circle cx="1433.0" cy="1539.7" r="4.3"/><circle cx="1430.6" cy="1551.9" r="4.3"/><circle cx="1427.4" cy="1564.7" r="4.3"/><circle cx="1424.5" cy="1578.9" r="4.3"/><circle cx="1422.0" cy="1603.3" r="4.3"/><circle cx="1457.5" cy="1572.7" r="4.3"/><circle cx="1458.8" cy="1586.2" r="4.3"/><circle cx="1464.9" cy="1616.8" r="4.3"/><circle cx="1467.3" cy="1629.0" r="4.3"/><circle cx="1469.8" cy="1636.4" r="4.3"/><circle cx="1485.7" cy="1625.4" r="4.3"/><circle cx="1491.8" cy="1547.0" r="4.3"/><circle cx="1549.3" cy="1416.1" r="4.3"/><circle cx="1588.0" cy="1461.4" r="4.3"/><circle cx="1603.7" cy="1411.7" r="4.3"/><circle cx="1606.9" cy="1400.6" r="4.3"/><circle cx="1610.5" cy="1382.5" r="4.3"/><circle cx="1623.3" cy="1348.0" r="4.3"/><circle cx="1626.4" cy="1314.5" r="4.3"/><circle cx="1643.6" cy="1605.8" r="4.3"/><circle cx="1641.1" cy="1613.1" r="4.3"/><circle cx="1633.8" cy="1642.5" r="4.3"/><circle cx="1631.3" cy="1673.1" r="4.3"/><circle cx="1627.7" cy="1695.1" r="4.3"/><circle cx="1663.2" cy="1654.7" r="4.3"/><circle cx="1666.0" cy="1652.0" r="4.3"/><circle cx="1671.7" cy="1645.0" r="4.3"/><circle cx="1679.1" cy="1621.7" r="4.3"/><circle cx="1682.7" cy="1602.1" r="4.3"/><circle cx="1687.6" cy="1561.7" r="4.3"/><circle cx="1691.3" cy="1547.0" r="4.3"/><circle cx="1719.5" cy="1520.1" r="4.3"/><circle cx="1722.0" cy="1518.0" r="4.3"/><circle cx="1725.6" cy="1503.0" r="4.3"/><circle cx="1729.3" cy="1466.3" r="4.3"/><circle cx="1739.0" cy="1449.1" r="4.3"/><circle cx="1736.6" cy="1356.1" r="4.3"/><circle cx="1735.4" cy="1386.7" r="4.3"/><circle cx="1732.9" cy="1396.5" r="4.3"/><circle cx="1825.0" cy="1296.1" r="4.3"/><circle cx="1822.6" cy="1314.5" r="4.3"/><circle cx="1819.7" cy="1340.2" r="4.3"/><circle cx="1816.5" cy="1359.8" r="4.3"/><circle cx="1814.8" cy="1372.0" r="4.3"/><circle cx="1781.0" cy="1379.4" r="4.3"/><circle cx="1778.5" cy="1390.4" r="4.3"/><circle cx="1775.6" cy="1397.7" r="4.3"/><circle cx="1773.2" cy="1407.5" r="4.3"/><circle cx="1738.2" cy="1356.6" r="4.3"/><circle cx="1765.1" cy="1457.7" r="4.3"/><circle cx="1881.4" cy="1642.5" r="4.3"/><circle cx="1971.9" cy="1587.4" r="4.3"/><circle cx="1975.6" cy="1603.3" r="4.3"/><circle cx="2001.3" cy="1605.8" r="4.3"/><circle cx="1992.7" cy="1630.3" r="4.3"/><circle cx="2007.4" cy="1571.5" r="4.3"/><circle cx="2009.9" cy="1559.3" r="4.3"/></g>
<g fill="none" stroke="#6C4C9E" stroke-width="8.4" stroke-linecap="round" stroke-linejoin="round"><polyline points="153.7,1468.7 160.0,1473.0 166.0,1476.5 173.3,1479.0"/><polyline points="235.7,1411.2 238.1,1405.0 241.8,1397.7 244.3,1390.4"/><polyline points="306.7,1601.0 312.0,1605.5 318.0,1607.0 325.0,1603.0"/><polyline points="336.1,1523.8 338.5,1515.3 342.2,1505.5 345.9,1496.9 353.2,1490.8 359.4,1483.4 361.8,1472.4"/><polyline points="397.3,1461.4 405.0,1470.0 413.0,1478.0 420.6,1485.9"/><polyline points="429.0,1596.0 437.0,1590.0 446.0,1588.7"/><polyline points="709.3,1385.0 715.0,1392.0 722.0,1398.0 730.0,1394.0 737.0,1391.0 744.0,1396.0 750.9,1393.0"/><polyline points="682.3,1401.0 685.0,1392.0 690.0,1385.0 697.0,1381.0 702.0,1378.0"/><polyline points="673.8,1422.2 678.0,1418.0 683.6,1414.8"/><polyline points="622.4,1479.7 616.0,1488.0 608.0,1496.0 601.0,1504.0 597.0,1515.0 595.0,1527.5"/><polyline points="471.8,1449.1 476.7,1436.9 483.0,1436.0 491.4,1439.3 498.8,1430.8 505.0,1429.0 512.2,1428.3 520.8,1436.9 525.0,1446.0 530.6,1456.5 537.9,1466.3 547.7,1472.4 552.6,1482.2"/><polyline points="442.4,1570.0 450.0,1568.0 457.0,1574.0"/><polyline points="560.0,1607.0 570.0,1614.0 578.0,1612.0 585.7,1605.8"/><polyline points="791.8,1581.3 798.0,1572.0 805.0,1563.0 812.6,1554.4"/><polyline points="812.6,1600.0 815.0,1610.0 822.0,1617.0 830.0,1619.0 838.0,1616.0 842.0,1610.0 844.5,1603.0"/><polyline points="979.1,1534.0 982.0,1522.0 988.0,1515.0 995.0,1513.0 1002.0,1515.0 1007.2,1518.0"/><polyline points="1051.3,1471.2 1055.0,1462.0 1062.0,1456.0 1072.1,1454.0"/><polyline points="1078.2,1337.7 1082.4,1326.0 1086.8,1316.9"/><polyline points="1108.2,1445.4 1112.0,1438.0 1120.0,1436.0 1128.0,1437.0 1136.3,1435.7"/><polyline points="1175.5,1515.2 1178.0,1505.0 1184.0,1497.0 1192.0,1495.0 1200.0,1499.0"/><polyline points="1248.9,1462.6 1256.0,1457.0 1264.8,1452.8"/><polyline points="1266.0,1383.0 1270.0,1378.0 1275.8,1374.5 1284.4,1369.6 1293.0,1378.1 1301.5,1387.9 1310.1,1400.2 1318.7,1403.8 1326.0,1398.9"/><polyline points="1327.2,1372.0 1337.0,1359.0 1346.8,1346.3"/><polyline points="1345.6,1299.8 1354.2,1309.6 1361.6,1324.3 1371.3,1326.7 1378.6,1315.7 1382.3,1304.7 1384.8,1296.1"/><polyline points="1397.0,1643.7 1405.0,1636.0 1412.0,1628.0 1420.0,1620.5"/><polyline points="1400.0,1642.5 1410.0,1632.0 1419.6,1622.9"/><polyline points="1432.0,1530.0 1440.0,1533.0 1450.0,1537.0 1457.5,1535.0"/><polyline points="1471.0,1648.0 1478.0,1645.0 1486.9,1638.0"/><polyline points="1549.3,1466.3 1556.0,1471.0 1563.0,1478.0 1571.0,1484.0 1580.0,1484.0 1588.5,1479.0"/><polyline points="1590.9,1445.4 1597.0,1432.0 1604.4,1419.7"/><polyline points="1635.0,1632.7 1642.0,1627.0 1649.7,1622.9"/><polyline points="1796.9,1368.3 1800.0,1378.0 1805.0,1386.0 1810.0,1384.0 1814.0,1376.0"/><polyline points="1783.4,1365.9 1786.0,1355.0 1791.0,1349.0 1798.1,1349.0"/><polyline points="1749.2,1473.0 1758.0,1470.0 1766.3,1466.3"/><polyline points="1826.3,1696.4 1831.0,1682.0 1837.3,1667.0 1847.0,1683.0 1856.9,1698.8 1866.0,1682.0 1876.5,1664.5"/><polyline points="1886.3,1610.0 1893.0,1600.0 1900.0,1596.0 1906.0,1605.0 1913.2,1615.6"/><polyline points="1935.2,1615.6 1945.0,1605.0 1955.0,1594.0 1962.0,1586.0 1969.5,1578.9"/><polyline points="2009.9,1552.0 2015.0,1547.0 2020.9,1543.4"/></g>
<g fill="none" stroke="#6C4C9E" stroke-width="3" stroke-linecap="round" stroke-linejoin="round"><polyline points="1494.0,1490.0 1499.0,1479.0 1503.0,1469.0"/><polyline points="1520.0,1430.0 1524.0,1421.0 1528.0,1413.0"/></g>
<polyline points="155.5,1423.8 198.7,1423.8 265.5,1424.8 328.0,1535.2 391.5,1545.0 455.5,1449.0 522.0,1330.4 586.5,1553.2 648.0,1580.0 715.0,1520.1 778.0,1574.0 843.5,1500.5 908.5,1565.4 970.5,1578.9 1038.5,1556.8 1101.5,1569.1 1165.5,1586.2 1228.5,1587.4 1295.0,1510.3 1360.0,1503.0 1421.5,1511.5 1487.0,1532.3 1552.0,1381.8 1615.0,1361.0 1681.0,1542.1 1744.0,1468.0 1810.5,1397.7 1874.5,1547.0 1938.0,1498.1 1990.3,1518.9 1992.7,1523.8 2020.9,1523.8" fill="none" stroke="#F8F8F8" stroke-width="16" stroke-linejoin="round"/>
<polyline points="155.5,1674.4 198.7,1674.4 265.5,1625.0 328.0,1659.0 391.5,1692.0 455.5,1625.4 522.0,1582.5 586.5,1662.1 648.0,1675.6 715.0,1596.0 778.0,1630.3 843.5,1630.3 908.5,1701.3 970.5,1684.1 1038.5,1627.8 1101.5,1699.0 1165.5,1656.0 1228.5,1676.8 1295.0,1629.0 1360.0,1662.1 1421.5,1662.1 1487.0,1657.2 1552.0,1660.9 1615.0,1669.4 1681.0,1629.0 1744.0,1681.7 1810.5,1615.6 1874.5,1621.7 1938.0,1626.6 1991.5,1616.8 2020.9,1616.8" fill="none" stroke="#F8F8F8" stroke-width="16" stroke-linejoin="round"/>
<polyline points="155.5,1514.0 198.7,1514.0 265.5,1561.7 328.0,1575.5 391.5,1595.5 455.5,1514.0 522.0,1479.7 586.5,1586.2 648.0,1645.0 715.0,1567.8 778.0,1597.5 843.5,1567.8 908.5,1632.7 970.5,1613.1 1038.5,1609.5 1101.5,1618.5 1165.5,1625.4 1228.5,1631.5 1295.0,1581.3 1360.0,1574.0 1421.5,1589.8 1487.0,1607.0 1552.0,1527.5 1615.0,1555.6 1681.0,1587.4 1744.0,1588.0 1810.5,1507.9 1874.5,1596.0 1938.0,1564.2 1991.5,1582.5 2020.9,1582.5" fill="none" stroke="#F8F8F8" stroke-width="17" stroke-linejoin="round"/>
<line x1="193.8" y1="1650.5" x2="2020.5" y2="1650.5" stroke="#000" stroke-width="2" stroke-dasharray="7.8 6.2"/>
<line x1="193.8" y1="1591.4" x2="2020.5" y2="1591.4" stroke="#000" stroke-width="2" stroke-dasharray="7.8 6.2"/>
<line x1="193.8" y1="1532.3" x2="2020.5" y2="1532.3" stroke="#000" stroke-width="2" stroke-dasharray="7.8 6.2"/>
<line x1="193.8" y1="1473.1" x2="2020.5" y2="1473.1" stroke="#000" stroke-width="2" stroke-dasharray="7.8 6.2"/>
<line x1="193.8" y1="1414.0" x2="2020.5" y2="1414.0" stroke="#000" stroke-width="2" stroke-dasharray="7.8 6.2"/>
<line x1="193.8" y1="1354.9" x2="2020.5" y2="1354.9" stroke="#000" stroke-width="2" stroke-dasharray="7.8 6.2"/>
<line x1="193.8" y1="1709.6" x2="2020.5" y2="1709.6" stroke="#000" stroke-width="2" stroke-dasharray="7.8 6.2"/>
<polyline points="155.5,1514.0 198.7,1514.0 265.5,1561.7 328.0,1575.5 391.5,1595.5 455.5,1514.0 522.0,1479.7 586.5,1586.2 648.0,1645.0 715.0,1567.8 778.0,1597.5 843.5,1567.8 908.5,1632.7 970.5,1613.1 1038.5,1609.5 1101.5,1618.5 1165.5,1625.4 1228.5,1631.5 1295.0,1581.3 1360.0,1574.0 1421.5,1589.8 1487.0,1607.0 1552.0,1527.5 1615.0,1555.6 1681.0,1587.4 1744.0,1588.0 1810.5,1507.9 1874.5,1596.0 1938.0,1564.2 1991.5,1582.5 2020.9,1582.5" fill="none" stroke="#3F7070" stroke-width="8.5" stroke-dasharray="7.6 6.4"/>
<polyline points="155.5,1423.8 198.7,1423.8 265.5,1424.8 328.0,1535.2 391.5,1545.0 455.5,1449.0 522.0,1330.4 586.5,1553.2 648.0,1580.0 715.0,1520.1 778.0,1574.0 843.5,1500.5 908.5,1565.4 970.5,1578.9 1038.5,1556.8 1101.5,1569.1 1165.5,1586.2 1228.5,1587.4 1295.0,1510.3 1360.0,1503.0 1421.5,1511.5 1487.0,1532.3 1552.0,1381.8 1615.0,1361.0 1681.0,1542.1 1744.0,1468.0 1810.5,1397.7 1874.5,1547.0 1938.0,1498.1 1990.3,1518.9 1992.7,1523.8 2020.9,1523.8" fill="none" stroke="#3F7070" stroke-width="7" stroke-linejoin="round"/>
<polyline points="155.5,1674.4 198.7,1674.4 265.5,1625.0 328.0,1659.0 391.5,1692.0 455.5,1625.4 522.0,1582.5 586.5,1662.1 648.0,1675.6 715.0,1596.0 778.0,1630.3 843.5,1630.3 908.5,1701.3 970.5,1684.1 1038.5,1627.8 1101.5,1699.0 1165.5,1656.0 1228.5,1676.8 1295.0,1629.0 1360.0,1662.1 1421.5,1662.1 1487.0,1657.2 1552.0,1660.9 1615.0,1669.4 1681.0,1629.0 1744.0,1681.7 1810.5,1615.6 1874.5,1621.7 1938.0,1626.6 1991.5,1616.8 2020.9,1616.8" fill="none" stroke="#3F7070" stroke-width="7" stroke-linejoin="round"/>
<line x1="155" y1="1295.8" x2="2020.5" y2="1295.8" stroke="#000" stroke-width="2"/>
<line x1="155" y1="1295.8" x2="193.8" y2="1295.8" stroke="#3F7070" stroke-width="2"/>
<path d="M206.5,1295.8 v3.5 M270.9,1295.8 v7 M335.3,1295.8 v3.5 M399.6,1295.8 v7 M464.0,1295.8 v3.5 M528.4,1295.8 v7 M592.8,1295.8 v3.5 M657.2,1295.8 v7 M721.5,1295.8 v3.5 M785.9,1295.8 v7 M850.3,1295.8 v3.5 M914.7,1295.8 v7 M979.1,1295.8 v3.5 M1043.4,1295.8 v7 M1107.8,1295.8 v3.5 M1172.2,1295.8 v7 M1236.6,1295.8 v3.5 M1301.0,1295.8 v7 M1365.3,1295.8 v3.5 M1429.7,1295.8 v7 M1494.1,1295.8 v3.5 M1558.5,1295.8 v7 M1622.9,1295.8 v3.5 M1687.2,1295.8 v7 M1751.6,1295.8 v3.5 M1816.0,1295.8 v7 M1880.4,1295.8 v3.5 M1944.8,1295.8 v7 M2009.1,1295.8 v3.5" stroke="#000" stroke-width="3" fill="none"/>
<path d="M156,1697.8 H175.2 M156,1686.0 H175.2 M156,1674.1 H175.2 M156,1662.3 H175.2 M156,1638.7 H175.2 M156,1626.8 H175.2 M156,1615.0 H175.2 M156,1603.2 H175.2 M156,1579.5 H175.2 M156,1567.7 H175.2 M156,1555.9 H175.2 M156,1544.1 H175.2 M156,1520.4 H175.2 M156,1508.6 H175.2 M156,1496.8 H175.2 M156,1485.0 H175.2 M156,1461.3 H175.2 M156,1449.5 H175.2 M156,1437.7 H175.2 M156,1425.8 H175.2 M156,1402.2 H175.2 M156,1390.4 H175.2 M156,1378.6 H175.2 M156,1366.7 H175.2 M156,1343.1 H175.2 M156,1331.3 H175.2 M156,1319.4 H175.2 M156,1307.6 H175.2 M156,1709.6 H193.8 M156,1650.5 H193.8 M156,1591.4 H193.8 M156,1532.3 H193.8 M156,1473.1 H193.8 M156,1414.0 H193.8 M156,1354.9 H193.8 M156,1295.8 H193.8" stroke="#3F7070" stroke-width="2" fill="none"/>
<path d="M175.2,1697.8 H184.1 M175.2,1686.0 H184.1 M175.2,1674.1 H184.1 M175.2,1662.3 H184.1 M175.2,1638.7 H184.1 M175.2,1626.8 H184.1 M175.2,1615.0 H184.1 M175.2,1603.2 H184.1 M175.2,1579.5 H184.1 M175.2,1567.7 H184.1 M175.2,1555.9 H184.1 M175.2,1544.1 H184.1 M175.2,1520.4 H184.1 M175.2,1508.6 H184.1 M175.2,1496.8 H184.1 M175.2,1485.0 H184.1 M175.2,1461.3 H184.1 M175.2,1449.5 H184.1 M175.2,1437.7 H184.1 M175.2,1425.8 H184.1 M175.2,1402.2 H184.1 M175.2,1390.4 H184.1 M175.2,1378.6 H184.1 M175.2,1366.7 H184.1 M175.2,1343.1 H184.1 M175.2,1331.3 H184.1 M175.2,1319.4 H184.1 M175.2,1307.6 H184.1" stroke="#000" stroke-width="2" fill="none"/>
<line x1="155.4" y1="1294.8" x2="155.4" y2="1710.6" stroke="#3F7070" stroke-width="2.8"/>
<line x1="2020.5" y1="1294.8" x2="2020.5" y2="1710.6" stroke="#6C4C9E" stroke-width="2.8"/>
<path d="M1983,1398.9 H2020.6 M1983,1502.5 H2020.6 M1983,1709.6 H2020.6" stroke="#6C4C9E" stroke-width="1.9"/>
<text x="105.75" y="1321.05" font-size="32.72" textLength="38.31" lengthAdjust="spacingAndGlyphs" fill="#3F7070" stroke="#3F7070" stroke-width="0.6">35</text>
<text x="105.08" y="1369.05" font-size="32.72" textLength="38.82" lengthAdjust="spacingAndGlyphs" fill="#3F7070" stroke="#3F7070" stroke-width="0.6">30</text>
<text x="105.39" y="1428.15" font-size="32.72" textLength="38.68" lengthAdjust="spacingAndGlyphs" fill="#3F7070" stroke="#3F7070" stroke-width="0.6">25</text>
<text x="104.72" y="1487.25" font-size="32.72" textLength="39.20" lengthAdjust="spacingAndGlyphs" fill="#3F7070" stroke="#3F7070" stroke-width="0.6">20</text>
<text x="105.68" y="1546.45" font-size="32.74" textLength="38.38" lengthAdjust="spacingAndGlyphs" fill="#3F7070" stroke="#3F7070" stroke-width="0.6">15</text>
<text x="104.99" y="1605.55" font-size="32.72" textLength="38.92" lengthAdjust="spacingAndGlyphs" fill="#3F7070" stroke="#3F7070" stroke-width="0.6">10</text>
<text x="126.51" y="1664.65" font-size="32.74" textLength="17.37" lengthAdjust="spacingAndGlyphs" fill="#3F7070" stroke="#3F7070" stroke-width="0.6">5</text>
<text x="125.47" y="1710.25" font-size="32.72" textLength="18.32" lengthAdjust="spacingAndGlyphs" fill="#3F7070" stroke="#3F7070" stroke-width="0.6">0</text>
<text transform="translate(69.10,1686.80) rotate(-90)" x="-1.80" y="0" font-size="32.86" textLength="371.18" lengthAdjust="spacingAndGlyphs" fill="#3F7070" stroke="#3F7070" stroke-width="0.6">Скорость ветра (km/h)</text>
<text x="2032.47" y="1320.85" font-size="32.72" textLength="59.73" lengthAdjust="spacingAndGlyphs" fill="#6C4C9E" stroke="#6C4C9E" stroke-width="0.6">360</text>
<text x="2032.10" y="1413.55" font-size="32.72" textLength="60.11" lengthAdjust="spacingAndGlyphs" fill="#6C4C9E" stroke="#6C4C9E" stroke-width="0.6">270</text>
<text x="2031.21" y="1517.35" font-size="32.72" textLength="59.86" lengthAdjust="spacingAndGlyphs" fill="#6C4C9E" stroke="#6C4C9E" stroke-width="0.6">180</text>
<text x="2032.31" y="1620.45" font-size="32.72" textLength="39.36" lengthAdjust="spacingAndGlyphs" fill="#6C4C9E" stroke="#6C4C9E" stroke-width="0.6">90</text>
<text x="2032.58" y="1710.15" font-size="32.72" textLength="18.32" lengthAdjust="spacingAndGlyphs" fill="#6C4C9E" stroke="#6C4C9E" stroke-width="0.6">0</text>
<text transform="translate(2133.60,1674.30) rotate(-90)" x="-2.85" y="0" font-size="32.71" textLength="325.17" lengthAdjust="spacingAndGlyphs" fill="#6C4C9E" stroke="#6C4C9E" stroke-width="0.6">Направление ветра</text>
<circle cx="2108.3" cy="1333.8" r="3.6" fill="none" stroke="#6C4C9E" stroke-width="1.8"/>
<text x="253.79" y="1280.00" font-size="32.00" textLength="35.82" lengthAdjust="spacingAndGlyphs" fill="#000" stroke="#000" stroke-width="0.6">02</text>
<text x="381.84" y="1280.00" font-size="32.00" textLength="36.59" lengthAdjust="spacingAndGlyphs" fill="#000" stroke="#000" stroke-width="0.6">04</text>
<text x="510.67" y="1280.00" font-size="32.00" textLength="36.78" lengthAdjust="spacingAndGlyphs" fill="#000" stroke="#000" stroke-width="0.6">06</text>
<text x="639.51" y="1280.00" font-size="32.00" textLength="36.62" lengthAdjust="spacingAndGlyphs" fill="#000" stroke="#000" stroke-width="0.6">08</text>
<text x="767.83" y="1280.00" font-size="32.00" textLength="36.20" lengthAdjust="spacingAndGlyphs" fill="#000" stroke="#000" stroke-width="0.6">10</text>
<text x="897.16" y="1280.00" font-size="32.00" textLength="35.56" lengthAdjust="spacingAndGlyphs" fill="#000" stroke="#000" stroke-width="0.6">12</text>
<text x="1025.18" y="1280.00" font-size="32.02" textLength="36.36" lengthAdjust="spacingAndGlyphs" fill="#000" stroke="#000" stroke-width="0.6">14</text>
<text x="1154.01" y="1280.00" font-size="32.00" textLength="36.55" lengthAdjust="spacingAndGlyphs" fill="#000" stroke="#000" stroke-width="0.6">16</text>
<text x="1282.85" y="1280.00" font-size="32.00" textLength="36.38" lengthAdjust="spacingAndGlyphs" fill="#000" stroke="#000" stroke-width="0.6">18</text>
<text x="1411.90" y="1280.00" font-size="32.00" textLength="36.47" lengthAdjust="spacingAndGlyphs" fill="#000" stroke="#000" stroke-width="0.6">20</text>
<text x="1541.22" y="1280.00" font-size="32.00" textLength="35.84" lengthAdjust="spacingAndGlyphs" fill="#000" stroke="#000" stroke-width="0.6">22</text>
<text x="1669.26" y="1280.00" font-size="32.00" textLength="36.62" lengthAdjust="spacingAndGlyphs" fill="#000" stroke="#000" stroke-width="0.6">24</text>
<text x="1798.09" y="1280.00" font-size="32.00" textLength="36.81" lengthAdjust="spacingAndGlyphs" fill="#000" stroke="#000" stroke-width="0.6">26</text>
<text x="1926.93" y="1280.00" font-size="32.00" textLength="36.65" lengthAdjust="spacingAndGlyphs" fill="#000" stroke="#000" stroke-width="0.6">28</text>
<g fill="#6C4C9E"><rect x="2184.1" y="1246.0" width="4.8" height="29.1"/><polygon points="2177.1,1274.1 2195.9,1274.1 2189.5,1297.6 2183.5,1297.6"/><rect x="2184.1" y="1658.8" width="4.8" height="29.0"/><polygon points="2177.1,1686.8 2195.9,1686.8 2189.5,1710.6 2183.5,1710.6"/><rect x="2183.9" y="1524" width="6" height="29.8"/><polygon points="2177.5,1525.6 2196.3,1525.6 2189.9,1503 2183.9,1503"/><rect x="2155.1" y="1397.2" width="41.3" height="5"/><polygon points="2195.4,1391.2 2195.4,1408.3 2219.5,1402.2 2219.5,1397.2"/><rect x="2176" y="1603.7" width="43.5" height="5"/><polygon points="2177.9,1597.7 2177.9,1615.4 2154.1,1609.2 2154.1,1603.2"/></g>
</svg></body></html>
